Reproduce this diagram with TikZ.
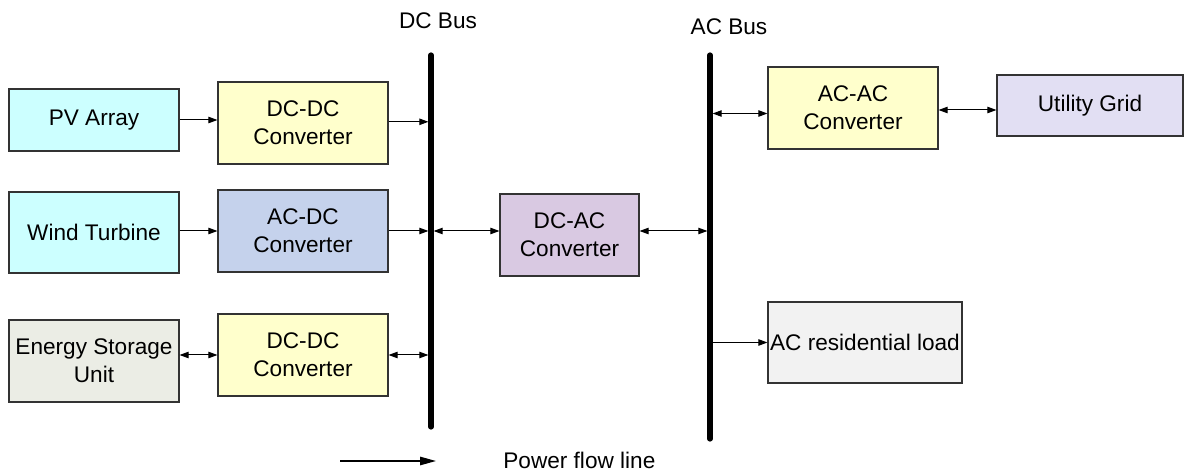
\documentclass[tikz,border=0pt]{standalone}
\usepackage{fontspec}
\setmainfont{Liberation Sans}
\usetikzlibrary{arrows.meta}

\definecolor{pvcyan}{HTML}{CCFFFF}
\definecolor{convyellow}{HTML}{FFFFCC}
\definecolor{acdcblue}{HTML}{C5D2EC}
\definecolor{storegray}{HTML}{EBEDE5}
\definecolor{dcacpurple}{HTML}{D9C9E2}
\definecolor{gridlav}{HTML}{E2DFF3}
\definecolor{loadgray}{HTML}{F2F2F2}
\definecolor{edgegray}{HTML}{333333}

\tikzset{
  blk/.style={draw=edgegray, line width=0.55pt, inner sep=0pt, align=center,
    font=\fontsize{11.3}{14}\selectfont},
  flow/.style={line width=0.5pt, -{Triangle[length=4.5pt,width=3.2pt]}},
  bidir/.style={line width=0.5pt, {Triangle[length=4.5pt,width=3.2pt]}-{Triangle[length=4.5pt,width=3.2pt]}},
  bus/.style={line width=2.6pt, line cap=round},
  lbl/.style={font=\fontsize{11.3}{14}\selectfont, inner sep=0pt},
  legendarrow/.style={line width=0.8pt, -{Triangle[length=8pt,width=4.2pt]}}
}

\begin{document}
\begin{tikzpicture}[x=0.5pt,y=-0.5pt]
\useasboundingbox (0,0) rectangle (1184,470);

% source side
\node[blk, fill=pvcyan, minimum width=85pt, minimum height=31pt] (pv) at (94,120) {PV Array};
\node[blk, fill=convyellow, minimum width=85pt, minimum height=41pt] (dcdc1) at (303,123) {DC-DC\\Converter};
\node[blk, fill=pvcyan, minimum width=85pt, minimum height=40.5pt] (wind) at (94,232.5) {Wind Turbine};
\node[blk, fill=acdcblue, minimum width=85pt, minimum height=41pt] (acdc) at (303,231) {AC-DC\\Converter};
\node[blk, fill=storegray, minimum width=85pt, minimum height=41pt] (ess) at (94,361) {Energy Storage\\Unit};
\node[blk, fill=convyellow, minimum width=85pt, minimum height=41pt] (dcdc2) at (303,355) {DC-DC\\Converter};

% inverter between the buses
\node[blk, fill=dcacpurple, minimum width=69.5pt, minimum height=41pt] (dcac) at (569.5,235) {DC-AC\\Converter};

% grid side
\node[blk, fill=convyellow, minimum width=85pt, minimum height=41pt] (acac) at (853,108) {AC-AC\\Converter};
\node[blk, fill=gridlav, minimum width=93pt, minimum height=30.5pt] (grid) at (1090,105.5) {Utility Grid};
\node[blk, fill=loadgray, minimum width=97pt, minimum height=40.5pt] (load) at (865,342.5) {AC residential load};

% bus ends
\coordinate (dctop) at (431,55);
\coordinate (dcbot) at (431,427);
\coordinate (actop) at (710,55);
\coordinate (acbot) at (710,439);

% bus labels
\node[lbl] (dclabel) at (438,21) {DC Bus};
\node[lbl] (aclabel) at (729,27) {AC Bus};

% connectors
\draw[flow] (pv.east) -- (dcdc1.west |- pv.east);
\draw[flow, shorten >=1.3pt] ([yshift=0.6pt]dcdc1.east) -- ([yshift=0.6pt]dcdc1.east -| dctop);
\draw[flow] (wind.east |- acdc.west) -- (acdc.west);
\draw[flow, shorten >=1.3pt] (acdc.east) -- (acdc.east -| dctop);
\draw[bidir] (ess.east |- dcdc2.west) -- (dcdc2.west);
\draw[bidir, shorten >=1.3pt] (dcdc2.east) -- (dcdc2.east -| dctop);
\draw[bidir, shorten <=1.3pt] (acdc.east -| dctop) -- (dcac.west |- acdc.east);
\draw[bidir, shorten >=1.3pt] (dcac.east |- acdc.east) -- (acdc.east -| actop);
\draw[bidir, shorten <=1.3pt] ([yshift=-2.75pt]acac.west -| actop) -- ([yshift=-2.75pt]acac.west);
\draw[bidir] ([yshift=-1pt]acac.east) -- ([yshift=-1pt]acac.east -| grid.west);
\draw[flow, shorten <=1.3pt] (load.west -| actop) -- (load.west);

% buses
\draw[bus] (dctop) -- (dcbot);
\draw[bus] (actop) -- (acbot);

% legend
\coordinate (legA) at (340,461);
\coordinate (legB) at (436,461);
\draw[legendarrow] (legA) -- (legB);
\node[lbl, anchor=west] (legtext) at (503,460) {Power flow line};
\end{tikzpicture}
\end{document}
